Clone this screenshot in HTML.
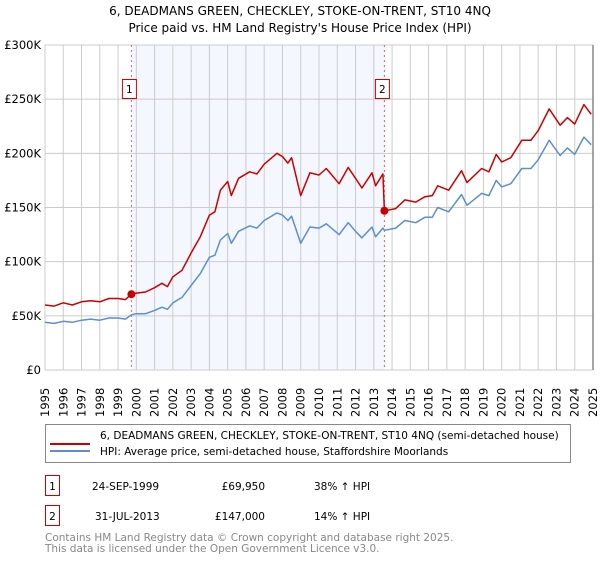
<!DOCTYPE html>
<html><head><meta charset="utf-8"><style>
body{margin:0;background:#fff;font-family:"Liberation Sans","DejaVu Sans",sans-serif;}
svg text{font-family:"DejaVu Sans","Liberation Sans",sans-serif;}
</style></head><body>
<svg id="c" width="600" height="560" viewBox="0 0 600 560">
<text x="300" y="15" text-anchor="middle" font-size="12" fill="#000">6, DEADMANS GREEN, CHECKLEY, STOKE-ON-TRENT, ST10 4NQ</text>
<text x="300" y="32" text-anchor="middle" font-size="12" fill="#000">Price paid vs. HM Land Registry's House Price Index (HPI)</text>
<g id="grid"></g>
<g id="series"></g>
<g id="axes"></g>
<g>
<rect x="45.5" y="424.5" width="525" height="38" fill="#fff" stroke="#888"/>
<line x1="50" y1="444" x2="90" y2="444" stroke="#cc0000" stroke-width="2"/>
<text x="100" y="439" font-size="10.5">6, DEADMANS GREEN, CHECKLEY, STOKE-ON-TRENT, ST10 4NQ (semi-detached house)</text>
<line x1="50" y1="451" x2="90" y2="451" stroke="#5b8fd0" stroke-width="2"/>
<text x="100" y="455" font-size="10.5">HPI: Average price, semi-detached house, Staffordshire Moorlands</text>
</g>
<g>
<rect x="45.5" y="475.5" width="14" height="20" fill="#fff" stroke="#cc0000"/>
<text x="52.5" y="490" text-anchor="middle" font-size="10.5">1</text>
<text x="92" y="490" font-size="10.5">24-SEP-1999</text>
<text x="265" y="490" text-anchor="end" font-size="10.5">£69,950</text>
<text x="314" y="490" font-size="10.5">38% ↑ HPI</text>
<rect x="45.5" y="505.5" width="14" height="20" fill="#fff" stroke="#cc0000"/>
<text x="52.5" y="520" text-anchor="middle" font-size="10.5">2</text>
<text x="95" y="520" font-size="10.5">31-JUL-2013</text>
<text x="265" y="520" text-anchor="end" font-size="10.5">£147,000</text>
<text x="314" y="520" font-size="10.5">14% ↑ HPI</text>
</g>
<text x="45" y="541" font-size="10.5" fill="#888">Contains HM Land Registry data © Crown copyright and database right 2025.</text>
<text x="45" y="552" font-size="10.5" fill="#888">This data is licensed under the Open Government Licence v3.0.</text>
</svg>
<script>
const dates=[1995.0,1995.5,1996.0,1996.5,1997.0,1997.5,1998.0,1998.5,1999.0,1999.4,1999.73,2000.0,2000.5,2001.0,2001.4,2001.7,2002.0,2002.5,2003.0,2003.5,2004.0,2004.3,2004.6,2005.0,2005.2,2005.6,2006.2,2006.6,2007.0,2007.7,2008.0,2008.3,2008.5,2009.0,2009.5,2010.0,2010.4,2011.1,2011.6,2012.0,2012.35,2012.9,2013.1,2013.5,2013.58,2014.2,2014.7,2015.3,2015.8,2016.2,2016.5,2017.1,2017.8,2018.1,2018.9,2019.3,2019.7,2020.0,2020.5,2021.1,2021.6,2022.0,2022.6,2023.2,2023.6,2024.0,2024.5,2024.9];
const hpiValues=[44,43,45,44,46,47,46,48,48,47,51,52,52,55,58,56,62,67,78,89,104,106,120,126,117,128,133,131,138,145,143,138,142,117,132,131,135,125,136,128,122,132,123,131,129,131,138,136,141,141,150,146,162,152,163,161,175,169,172,186,186,194,212,198,205,199,215,208];
const priceValues=[60,59,62,60,63,64,63,66,66,65,70,71,72,76,80,77,86,92,108,123,143,146,166,174,161,177,183,181,190,200,197,191,196,161,182,180,186,172,187,177,168,182,170,181,147,149,157,155,160,161,170,166,184,173,186,183,199,192,196,212,212,221,241,226,233,227,245,236];
const saleDates=[1999.73,2013.58];
const salePrices=[69.95,147];
const saleLabels=["1","2"];
const yTicks=[0,50,100,150,200,250,300];
const yTickLabels=["£0","£50K","£100K","£150K","£200K","£250K","£300K"];
const xYears=[];for(let y=1995;y<=2025;y++)xYears.push(y);

const X0=45,X1=593,Y0=370,Y1=45;
const xs=t=>X0+(t-1995)/30*(X1-X0);
const ys=v=>Y0-v/300*(Y0-Y1);
const NS="http://www.w3.org/2000/svg";
function mk(tag,attrs,parent){const e=document.createElementNS(NS,tag);for(const k in attrs)e.setAttribute(k,attrs[k]);parent.appendChild(e);return e;}
const grid=document.getElementById('grid'),ser=document.getElementById('series'),axes=document.getElementById('axes');
const sh=mk('rect',{x:xs(saleDates[0]),y:Y1,width:xs(saleDates[1])-xs(saleDates[0]),height:Y0-Y1,fill:'#f4f7fe'},grid);


xYears.forEach(y=>{const l=mk('line',{x1:xs(y),x2:xs(y),y1:Y1,y2:Y0,stroke:'#ccc','stroke-width':1},grid);


const t=mk('text',{x:0,y:0,'font-size':'11.5',transform:`translate(${xs(y)+4},${Y0+47}) rotate(-90)`},axes);t.textContent=y;

});
yTicks.forEach((v,i)=>{const l=mk('line',{x1:X0,x2:X1,y1:ys(v),y2:ys(v),stroke:'#ccc','stroke-width':1},grid);


const t=mk('text',{x:X0-4,y:ys(v)+4,'text-anchor':'end','font-size':'11.5'},axes);t.textContent=yTickLabels[i];

});
const edge=mk('line',{x1:X1,x2:X1,y1:Y1,y2:Y0,stroke:'#888','stroke-width':1.5},grid);


saleDates.forEach((d,i)=>{const l=mk('line',{x1:xs(d),x2:xs(d),y1:Y1,y2:Y0,stroke:'#e06070','stroke-width':1,'stroke-dasharray':'2,3'},grid);

});
function path(vals,col,name){const d=vals.map((v,i)=>(i?'L':'M')+xs(dates[i]).toFixed(1)+','+ys(v).toFixed(1)).join('');
const p=mk('path',{d:d,fill:'none',stroke:col,'stroke-width':1.5,'stroke-linejoin':'round'},ser);

}
path(hpiValues,'#5b8fd0','hpi-line');
path(priceValues,'#cc0000','price-line');
saleDates.forEach((d,i)=>{const c=mk('circle',{cx:xs(d),cy:ys(salePrices[i]),r:4,fill:'#cc0000'},ser);


const bx=xs(d)-9;
const r=mk('rect',{x:bx,y:79.5,width:14,height:19,fill:'#fff',stroke:'#cc0000'},ser);


const t=mk('text',{x:bx+7,y:93,'text-anchor':'middle','font-size':'10.5'},ser);t.textContent=saleLabels[i];

});
</script>
</body></html>
